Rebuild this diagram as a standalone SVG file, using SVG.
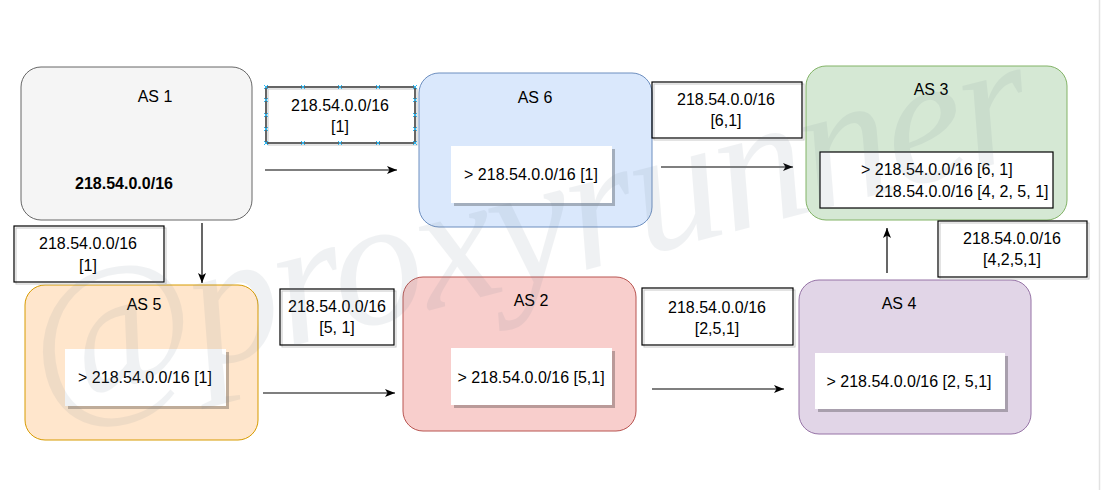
<svg xmlns="http://www.w3.org/2000/svg" width="1101" height="497" viewBox="0 0 1101 497">
<defs>
<style>
.t{font-family:"Liberation Sans",Arial,sans-serif;font-size:16px;fill:#000}
.c{text-anchor:middle}
.b{font-weight:bold}
.lbl-shadow{fill:#fff;stroke:#c8c8c8;stroke-width:1}
.lbl{fill:none;stroke:#000;stroke-width:1.2}
.inner{fill:#fff}
.shd{fill:#000;opacity:0.25}
.edge{fill:none;stroke:#000;stroke-width:1.2}
.h{stroke:#29b6f2;stroke-width:1}
</style>
<marker id="arr" viewBox="0 0 10 8" refX="10" refY="4" markerWidth="10" markerHeight="8" markerUnits="userSpaceOnUse" orient="auto">
<path d="M0,0 L10,4 L0,8 L2.5,4 Z" fill="#000"/>
</marker>
</defs>
<rect x="0" y="0" width="1101" height="497" fill="#fff"/>
<line x1="1099.5" y1="0" x2="1099.5" y2="490" stroke="#e2e2e2" stroke-width="1.5"/>

<g id="as1">
<rect x="21" y="67" width="231" height="153" rx="20" fill="#f5f5f5" stroke="#666666" stroke-width="1"/>
<text class="t c" x="155" y="102">AS 1</text>
<text class="t c b" x="124" y="189">218.54.0.0/16</text>
</g>

<g id="as6">
<rect x="419" y="73" width="233" height="154" rx="20" fill="#dae8fc" stroke="#6c8ebf" stroke-width="1"/>
<text class="t c" x="535" y="103">AS 6</text>
<rect class="shd" x="454" y="149" width="161" height="57"/>
<rect class="inner" x="451" y="146" width="161" height="57"/>
<text class="t c" x="531" y="180">&gt; 218.54.0.0/16 [1]</text>
</g>

<g id="as3">
<rect x="806" y="66" width="261" height="154" rx="20" fill="#d5e8d4" stroke="#82b366" stroke-width="1"/>
<text class="t c" x="931" y="95">AS 3</text>
<rect x="820" y="152" width="233" height="56" fill="#fff" stroke="#000" stroke-width="1.2"/>
<text class="t" x="861" y="175">&gt; 218.54.0.0/16 [6, 1]</text>
<text class="t" x="875" y="197">218.54.0.0/16 [4, 2, 5, 1]</text>
</g>

<g id="as5">
<rect x="25" y="285" width="233" height="155" rx="20" fill="#ffe6cc" stroke="#d79b00" stroke-width="1"/>
<text class="t c" x="144" y="310">AS 5</text>
<rect class="shd" x="68" y="352" width="161" height="57"/>
<rect class="inner" x="65" y="349" width="161" height="57"/>
<text class="t c" x="145" y="383">&gt; 218.54.0.0/16 [1]</text>
</g>

<g id="as2">
<rect x="403" y="277" width="233" height="154" rx="20" fill="#f8cecc" stroke="#b85450" stroke-width="1"/>
<text class="t c" x="531" y="306">AS 2</text>
<rect class="shd" x="454" y="351" width="161" height="57"/>
<rect class="inner" x="451" y="348" width="161" height="57"/>
<text class="t c" x="531" y="383">&gt; 218.54.0.0/16 [5,1]</text>
</g>

<g id="as4">
<rect x="799" y="280" width="232" height="154" rx="20" fill="#e1d5e7" stroke="#9673a6" stroke-width="1"/>
<text class="t c" x="899" y="309">AS 4</text>
<rect class="shd" x="818" y="356" width="190" height="56"/>
<rect class="inner" x="815" y="353" width="190" height="56"/>
<text class="t c" x="909" y="387">&gt; 218.54.0.0/16 [2, 5,1]</text>
</g>

<g id="label-1-6">
<rect class="lbl-shadow" x="268" y="89" width="149" height="56"/>
<rect class="lbl" x="266" y="87" width="149" height="56"/>
<text class="t c" x="340" y="111">218.54.0.0/16</text>
<text class="t c" x="340" y="132">[1]</text>
<g class="h">
<path d="M264,85 l4,4 m0,-4 l-4,4 M301,85 l4,4 m0,-4 l-4,4 M338,85 l4,4 m0,-4 l-4,4 M376,85 l4,4 m0,-4 l-4,4 M413,85 l4,4 m0,-4 l-4,4"/>
<path d="M264,141 l4,4 m0,-4 l-4,4 M301,141 l4,4 m0,-4 l-4,4 M338,141 l4,4 m0,-4 l-4,4 M376,141 l4,4 m0,-4 l-4,4 M413,141 l4,4 m0,-4 l-4,4"/>
<path d="M264,98 l4,4 m0,-4 l-4,4 M264,113 l4,4 m0,-4 l-4,4 M264,127 l4,4 m0,-4 l-4,4"/>
<path d="M413,98 l4,4 m0,-4 l-4,4 M413,113 l4,4 m0,-4 l-4,4 M413,127 l4,4 m0,-4 l-4,4"/>
</g>
</g>

<g id="label-1-5">
<rect class="lbl-shadow" x="16" y="228" width="150" height="56"/>
<rect class="lbl" x="14" y="226" width="150" height="56"/>
<text class="t c" x="88" y="249">218.54.0.0/16</text>
<text class="t c" x="88" y="271">[1]</text>
</g>

<g id="label-6-3">
<rect class="lbl-shadow" x="654" y="84" width="150" height="56"/>
<rect class="lbl" x="652" y="82" width="150" height="56"/>
<text class="t c" x="726" y="105">218.54.0.0/16</text>
<text class="t c" x="726" y="126">[6,1]</text>
</g>

<g id="label-5-2">
<rect class="lbl-shadow" x="282" y="291" width="114" height="56"/>
<rect class="lbl" x="280" y="289" width="114" height="56"/>
<text class="t c" x="337" y="312">218.54.0.0/16</text>
<text class="t c" x="337" y="333">[5, 1]</text>
</g>

<g id="label-2-4">
<rect class="lbl-shadow" x="644" y="290" width="151" height="57"/>
<rect class="lbl" x="642" y="288" width="151" height="57"/>
<text class="t c" x="717" y="313">218.54.0.0/16</text>
<text class="t c" x="717" y="334">[2,5,1]</text>
</g>

<g id="label-4-3">
<rect class="lbl-shadow" x="940" y="223" width="149" height="56"/>
<rect class="lbl" x="938" y="221" width="149" height="56"/>
<text class="t c" x="1012" y="244">218.54.0.0/16</text>
<text class="t c" x="1012" y="265">[4,2,5,1]</text>
</g>

<g id="connectors">
<path class="edge" d="M265,170 L397,170" marker-end="url(#arr)"/>
<path class="edge" d="M202,223 L202,283" marker-end="url(#arr)"/>
<path class="edge" d="M661,167 L793,167" marker-end="url(#arr)"/>
<path class="edge" d="M263,393 L395,393" marker-end="url(#arr)"/>
<path class="edge" d="M652,389 L784,389" marker-end="url(#arr)"/>
<path class="edge" d="M887,273 L887,228" marker-end="url(#arr)"/>
</g>

<text x="44" y="410" transform="rotate(-14.5 44 410)" textLength="1030" lengthAdjust="spacing" font-family="'Liberation Serif','Times New Roman',serif" font-style="italic" font-size="182" fill="#708090" opacity="0.1">@proxyrunner</text>
</svg>
